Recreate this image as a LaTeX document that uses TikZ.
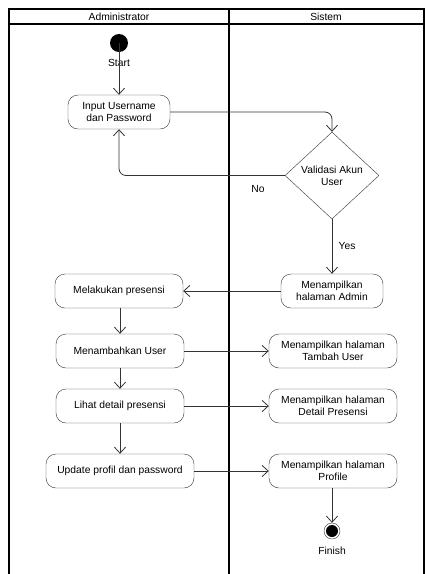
\documentclass[tikz,border=0pt]{standalone}
\usepackage{fontspec}
\setmainfont{Liberation Sans}
\usepackage{tikz}
\usetikzlibrary{shapes,arrows.meta,positioning,calc}

\begin{document}
\begin{tikzpicture}[x=1pt, y=-1pt,
    font=\fontsize{10.3}{11.8}\selectfont,
    >={Straight Barb[length=6pt,width=11pt]},
    act/.style={draw=black!80, rounded corners=10pt, align=center, inner sep=0pt,
      minimum width=128pt, minimum height=34pt},
    flow/.style={->, draw=black!80, line width=0.8pt}]
  \useasboundingbox (0,0) rectangle (425,574);
  \draw[line width=1.8pt] (9,580) -- (9,9) -- (424,9) -- (424,580);
  \draw[line width=1.8pt] (229,9) -- (229,580);
  \draw[line width=1.2pt] (9,24) -- (424,24);
  \node (lane1) at (119,17) {Administrator};
  \node (lane2) at (326,17) {Sistem};

  \fill (119,43) circle (9pt) coordinate (start);
  \node (startlbl) at (119,63) {Start};
  \node[act, minimum width=102pt] (input) at (119,112) {Input Username\\dan Password};
  \node[draw=black!80, diamond, align=center, inner sep=0pt,
    minimum width=94pt, minimum height=87pt] (validasi) at (332,175.5) {Validasi Akun\\User};
  \node (nolbl) at (258,189) {No};
  \node[act, minimum width=102pt] (admin) at (332,291) {Menampilkan\\halaman Admin};
  \node[act] (presensi) at (119,291) {Melakukan presensi};
  \node[act] (adduser) at (120,351) {Menambahkan User};
  \node[act] (adduserpage) at (333,351) {Menampilkan halaman\\Tambah User};
  \node[act] (detail) at (120,406) {Lihat detail presensi};
  \node[act] (detailpage) at (333,406) {Menampilkan halaman\\Detail Presensi};
  \node[act, minimum width=148pt] (profil) at (120,471) {Update profil dan password};
  \node[act] (profilpage) at (333,471) {Menampilkan halaman\\Profile};
  \node[draw=black!80, circle, minimum size=16pt, inner sep=0pt] (finish) at (332,531) {};
  \fill (finish) circle (6pt);
  \node (finishlbl) at (332,551) {Finish};

  \draw[flow] (start) -- (input);
  \draw[flow, rounded corners=7pt] (input.east) -| (validasi.north);
  \draw[flow, rounded corners=7pt] (validasi.west) -| (input.south);
  \draw[flow] (validasi.south) -- node[right=3pt] (yeslbl) {Yes} (admin.north);
  \draw[flow] (admin) -- (presensi);
  \draw[flow] (presensi.south -| adduser) -- (adduser);
  \draw[flow] (adduser) -- (adduserpage);
  \draw[flow] (adduser) -- (detail);
  \draw[flow] (detail) -- (detailpage);
  \draw[flow] (detail) -- (profil);
  \draw[flow] (profil) -- (profilpage);
  \draw[flow] (profilpage.south -| finish) -- (finish);
\end{tikzpicture}
\end{document}
